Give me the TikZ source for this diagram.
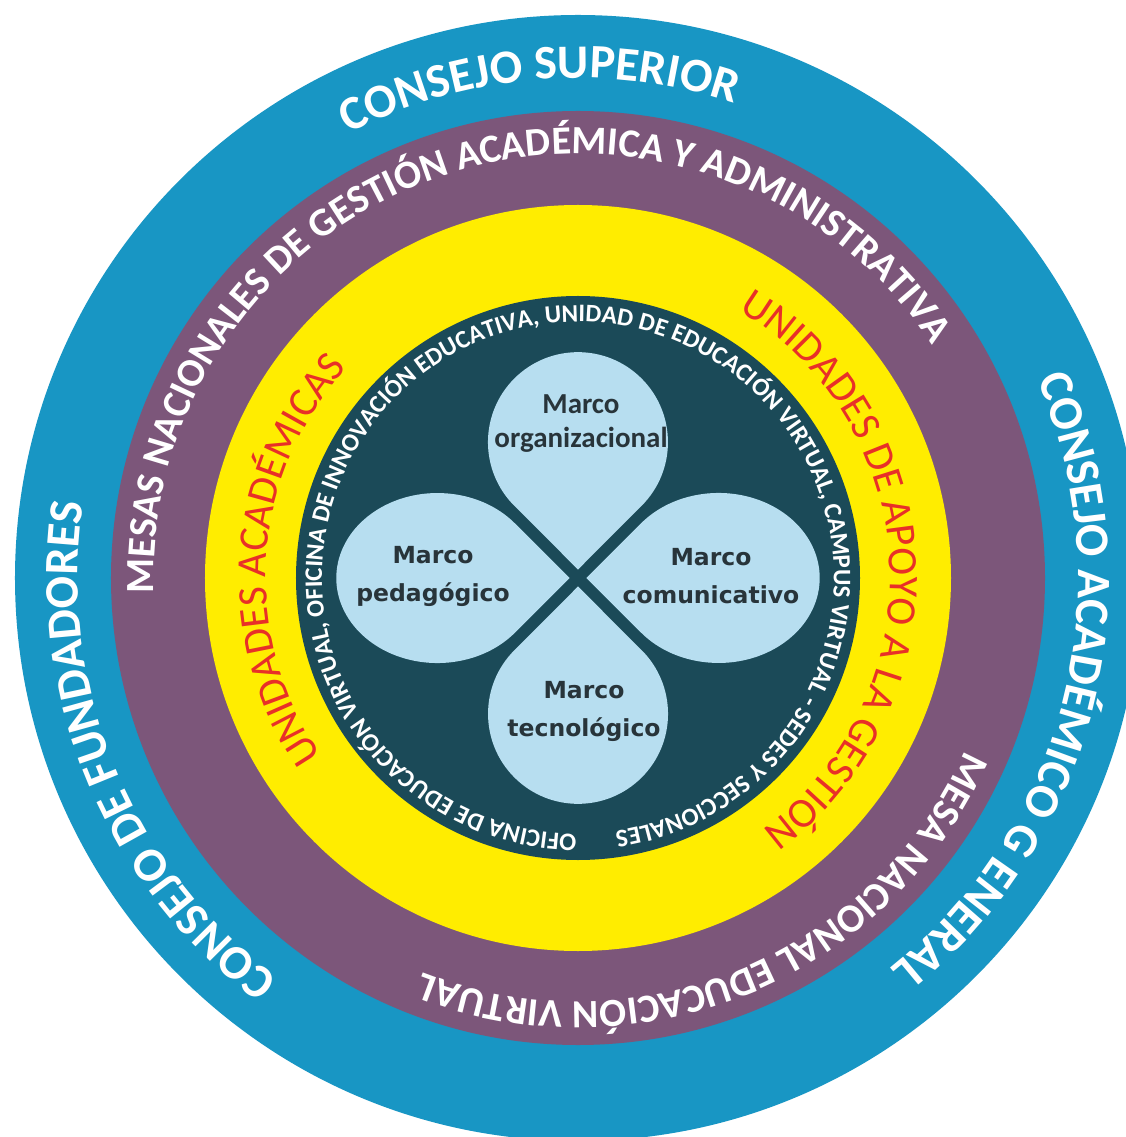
\documentclass[tikz,border=0pt]{standalone}
\usepackage{fontspec}
\newfontfamily\ringfont{Carlito}
\newfontfamily\petalfont{DejaVu Sans}
\usetikzlibrary{decorations.text}
\definecolor{ringblue}{RGB}{24,150,196}
\definecolor{ringpurple}{RGB}{124,86,122}
\definecolor{ringyellow}{RGB}{255,237,0}
\definecolor{ringdark}{RGB}{27,74,88}
\definecolor{petalblue}{RGB}{183,222,240}
\definecolor{ringred}{RGB}{232,48,40}
\definecolor{petalink}{RGB}{40,52,58}
\tikzset{
  petalshape/.style={fill=petalblue},
  ptxtA/.style={align=center, text=petalink, font=\ringfont\bfseries\fontsize{29}{34}\selectfont},
  ptxtB/.style={align=center, text=petalink, font=\petalfont\bfseries\fontsize{23.5}{38}\selectfont},
}
\newcommand\OuterFmt{|\ringfont\bfseries\fontsize{48}{48}\selectfont\color{white}|}
\newcommand\MidFmt{|\ringfont\bfseries\fontsize{40}{40}\selectfont\color{white}|}
\newcommand\YelFmt{|\ringfont\fontsize{42}{42}\selectfont\color{ringred}|}
\newcommand\DarkFmt{|\ringfont\bfseries\fontsize{25.2}{25.2}\selectfont\color{white}|}
\begin{document}
\begin{tikzpicture}[x=1pt,y=1pt]
\useasboundingbox (-578,-559) rectangle (548,578);
\clip (-578,-559) rectangle (548,578);
\fill[white] (-578,-559) rectangle (548,578);
% rings
\fill[ringblue] (0,0) circle[radius=563pt];
\fill[ringpurple] (0,0) circle[radius=467pt];
\fill[ringyellow] (0,0) circle[radius=373pt];
\fill[ringdark] (0,0) circle[radius=282pt];
% petals (vertical)
\begin{scope}
  \fill[petalshape] (0,8.49) -- (63.6,72.2) arc[start angle=-45, end angle=225, radius=90pt] -- cycle;
\end{scope}
\begin{scope}[rotate=180]
  \fill[petalshape] (0,8.49) -- (63.6,72.2) arc[start angle=-45, end angle=225, radius=90pt] -- cycle;
\end{scope}
% petals (horizontal, elongated)
\begin{scope}[rotate=90, yscale=1.19]
  \fill[petalshape] (0,7.13) -- (54.6,53.0) arc[start angle=-50, end angle=230, radius=85pt] -- cycle;
\end{scope}
\begin{scope}[rotate=-90, yscale=1.19]
  \fill[petalshape] (0,7.13) -- (54.6,53.0) arc[start angle=-50, end angle=230, radius=85pt] -- cycle;
\end{scope}
% petal texts
\node[ptxtA] (org) at (3,154) {Marco\\organizacional};
\node[ptxtB] (ped) at (-145,2) {Marco\\pedagógico};
\node[ptxtB] (com) at (133,2) {Marco\\comunicativo};
\node[ptxtB] (tec) at (6,-133) {Marco\\tecnológico};
% outer ring texts
\path[decorate, decoration={text along path, text align=center,
  text={\OuterFmt CONSEJO SUPERIOR}}]
  (154.5:500pt) arc[start angle=154.5, end angle=34.5, radius=500pt];
\path[decorate, decoration={text along path, text align=center,
  text={\OuterFmt CONSEJO DE FUNDADORES}}]
  (252.3:500pt) arc[start angle=252.3, end angle=152.3, radius=500pt];
\path[decorate, decoration={text along path, text align=center,
  text={\OuterFmt CONSEJO ACADÉMICO G ENERAL}}]
  (41:500pt) arc[start angle=41, end angle=-69, radius=500pt];
% purple ring texts
\path[decorate, decoration={text along path, text align=center,
  text={\MidFmt MESAS NACIONALES DE GESTIÓN ACADÉMICA Y ADMINISTRATIVA}}]
  (192.7:424pt) arc[start angle=192.7, end angle=22.7, radius=424pt];
\path[decorate, decoration={text along path, text align=center,
  text={\MidFmt MESA NACIONAL EDUCACIÓN VIRTUAL}}]
  (-12.7:424pt) arc[start angle=-12.7, end angle=-122.7, radius=424pt];
% yellow ring texts
\path[decorate, decoration={text along path, text align=center,
  text={\YelFmt UNIDADES ACADÉMICAS}}]
  (226.2:312pt) arc[start angle=226.2, end angle=126.2, radius=312pt];
\path[decorate, decoration={text along path, text align=center,
  text={\YelFmt UNIDADES DE APOYO A LA GESTIÓN}}]
  (72.6:312pt) arc[start angle=72.6, end angle=-67.4, radius=312pt];
% dark ring text
\path[decorate, decoration={text along path, text align=center,
  text={\DarkFmt OFICINA DE EDUCACIÓN VIRTUAL, OFICINA DE INNOVACIÓN EDUCATIVA, UNIDAD DE EDUCACIÓN VIRTUAL, CAMPUS VIRTUAL - SEDES Y SECCIONALES}}]
  (274:256pt) arc[start angle=274, end angle=-86, radius=256pt];
\end{tikzpicture}
\end{document}
